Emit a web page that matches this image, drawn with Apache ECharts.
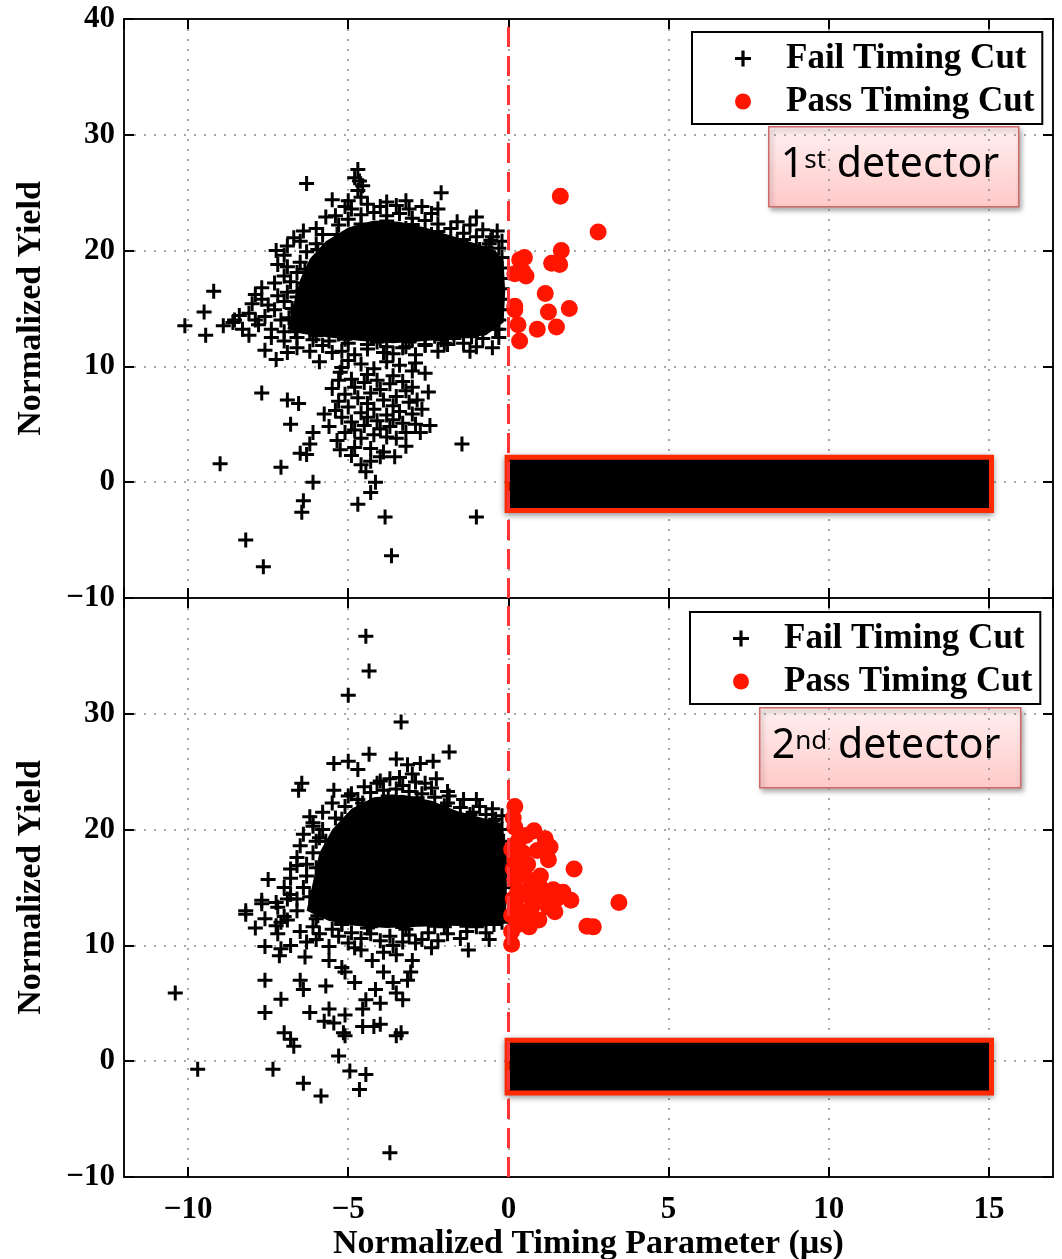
<!DOCTYPE html>
<html>
<head>
<meta charset="utf-8">
<title>Timing cut - two detectors</title>
<style>
  html, body { margin: 0; padding: 0; background: #fff; }
  #chart { width: 1062px; height: 1259px; }
</style>
<script src="https://cdn.jsdelivr.net/npm/echarts@6.0.0/dist/echarts.min.js"></script>
</head>
<body>
<div id="chart"></div>
<script>
// axis ranges (both panels share x)
const xMin = -12, xMax = 17;
const yMin = -10, yMax = 40;
const xName = 'Normalized Timing Parameter (\u00b5s)';
const yName = 'Normalized Yield';
const seriesNames = ['Fail Timing Cut', 'Pass Timing Cut'];
const panelTags = [['1', 'st'], ['2', 'nd']];

// ---- 1st detector ----
// dense overplotted core of the fail cloud (outline)
const topCore = [
  [-6.9, 13.2], [-6.7, 15.5], [-6.5, 17.5], [-6.2, 19.3], [-5.7, 20.8], [-5.0, 22.0],
  [-4.2, 22.6], [-3.4, 22.5], [-2.6, 22.0], [-1.8, 21.3], [-1.0, 20.6], [-0.4, 20.0],
  [-0.15, 19.0], [-0.1, 16.5], [-0.15, 13.8], [-0.7, 12.7], [-1.6, 12.4], [-2.6, 12.2],
  [-3.6, 12.0], [-4.6, 12.2], [-5.6, 12.5], [-6.4, 12.8]
];
const topFail = [
  // outliers
  [-4.7, 27.0], [-6.3, 25.8], [-4.65, 26.0], [-4.7, 25.2], [-2.1, 25.0], [-5.5, 24.4],
  [-5.0, 24.3], [-3.8, 24.2], [-4.6, 24.6], [-2.7, 23.8], [-1.0, 22.9], [-5.7, 22.9],
  [-6.4, 21.7], [-6.7, 21.1], [-7.25, 20.0], [-0.35, 21.7], [-0.55, 20.9], [-9.2, 16.5],
  [-7.7, 16.8], [-9.5, 14.7], [-8.0, 15.4], [-10.1, 13.5], [-9.45, 12.7], [-8.9, 13.5],
  [-8.55, 14.0], [-8.1, 14.6], [-7.6, 11.4], [-7.25, 10.6], [-5.9, 10.4], [-7.7, 7.7],
  [-6.9, 7.1], [-6.55, 6.8], [-6.8, 5.0], [-6.1, 4.3], [-6.2, 3.3], [-6.5, 2.5],
  [-6.3, 2.4], [-9.0, 1.6], [-7.1, 1.3], [-6.1, 0.0], [-6.4, -1.6], [-6.45, -2.6],
  [-8.2, -5.0], [-7.65, -7.3], [-4.7, -1.9], [-4.3, -0.9], [-4.15, 0.0], [-4.45, 0.9],
  [-3.85, -3.0], [-3.65, -6.35], [-1.0, -3.0], [-1.45, 3.3], [-2.6, 9.4], [-2.45, 4.9],
  [-2.75, 4.3], [-3.55, 2.2], [-4.9, 2.3], [-5.25, 2.8], [-5.35, 3.6], [-5.75, 5.9],
  [-5.5, 8.1], [-5.25, 9.5],
  // lower sub-cluster
  [-5.0, 10.5], [-4.6, 10.2], [-4.2, 9.8], [-3.8, 10.4], [-3.4, 10.1], [-3.0, 9.6],
  [-5.3, 8.8], [-4.9, 8.9], [-4.5, 8.6], [-4.1, 8.8], [-3.7, 8.5], [-3.3, 8.7],
  [-3.0, 8.2], [-5.1, 7.6], [-4.7, 7.3], [-4.3, 7.7], [-3.9, 7.1], [-3.5, 7.4],
  [-3.1, 6.9], [-2.85, 7.1], [-5.4, 6.2], [-5.0, 6.5], [-4.6, 6.0], [-4.2, 6.3],
  [-3.8, 5.8], [-3.4, 6.1], [-3.0, 5.9], [-4.9, 5.2], [-4.5, 4.9], [-4.1, 5.3],
  [-3.7, 4.8], [-3.3, 5.1], [-5.1, 4.3], [-4.6, 3.8], [-4.2, 4.1], [-3.8, 3.9],
  [-3.5, 3.8], [-4.8, 3.0], [-4.3, 2.9], [-3.9, 2.6], [-4.6, 1.5], [-4.3, 1.8],
  [-5.2, 9.9], [-4.4, 9.3], [-3.6, 9.2], [-2.9, 10.3], [-4.8, 8.2], [-4.0, 8.0],
  [-3.2, 7.9], [-5.3, 7.0], [-4.4, 6.8], [-3.6, 6.6], [-2.7, 6.3], [-5.2, 5.6],
  [-4.4, 5.6], [-3.6, 5.4], [-2.9, 5.0], [-4.8, 4.5], [-4.0, 4.6], [-3.2, 4.3],
  [-5.6, 4.8], [-2.5, 7.8], [-4.0, 2.2], [-3.2, 3.1],
  // band below the main cloud
  [-4.4, 11.5], [-3.9, 11.2], [-3.3, 11.6], [-2.6, 11.8], [-1.9, 11.9], [-1.0, 11.7],
  [-5.2, 11.3], [-5.8, 11.8], [-6.6, 11.6], [-7.0, 12.2],
  [-0.5, 11.6], [-1.2, 11.3], [-2.2, 11.3], [-2.9, 11.0], [-3.6, 11.1], [-4.8, 11.0],
  [-5.5, 11.2], [-6.2, 11.3], [-6.9, 11.2], [-1.7, 12.4], [-0.3, 12.5], [-2.3, 12.6],
  [-3.0, 12.3], [-4.0, 12.4], [-5.3, 12.8], [-6.2, 13.0],
  // ragged edge of the main cloud
  [-7.4, 13.2], [-7.1, 14.0], [-7.3, 14.9], [-7.0, 15.6], [-6.9, 16.4], [-6.8, 17.3],
  [-6.6, 18.1], [-6.5, 19.0], [-6.3, 19.9], [-6.0, 20.6], [-5.8, 21.4],
  [-5.3, 22.2], [-5.0, 22.7], [-4.6, 23.1], [-4.2, 23.3], [-3.8, 23.0], [-3.4, 23.2],
  [-3.0, 22.8], [-2.6, 22.6], [-2.2, 22.3], [-1.8, 21.9], [-1.4, 21.5], [-1.0, 21.2],
  [-0.6, 20.6], [-0.3, 20.2],
  [-0.2, 19.4], [-0.2, 18.5], [-0.25, 17.6], [-0.2, 16.7], [-0.25, 15.8], [-0.2, 14.9],
  [-0.3, 14.0], [-0.3, 13.2],
  [-0.8, 12.4], [-1.4, 12.0], [-2.0, 12.0], [-2.6, 11.9], [-3.2, 11.7], [-3.8, 11.7],
  [-4.4, 11.9], [-5.0, 12.0], [-5.6, 12.2], [-6.1, 12.3], [-6.6, 12.5],
  [-7.8, 13.6], [-7.6, 14.3], [-7.5, 15.3], [-7.2, 16.1], [-7.4, 12.5], [-8.3, 13.2],
  [-7.0, 17.8], [-6.9, 18.6],
  [-8.6, 13.8], [-8.4, 14.4], [-7.9, 14.0], [-7.7, 15.8], [-7.9, 16.2], [-7.3, 17.2],
  [-7.2, 18.8], [-7.0, 19.6], [-6.9, 20.4], [-6.5, 20.8], [-8.1, 12.7], [-7.0, 13.0],
  [-6.6, 14.7], [-6.6, 16.0], [-6.4, 17.2],
  [-6.0, 21.9], [-5.4, 23.0], [-4.9, 23.6], [-4.4, 24.0], [-4.0, 23.8], [-3.5, 23.9],
  [-3.1, 23.6], [-2.4, 23.2], [-1.6, 22.5], [-1.2, 22.2], [-0.8, 21.8], [-0.5, 21.2],
  [-0.2, 20.8], [-4.8, 26.3], [-4.55, 25.6], [-5.1, 23.8], [-3.2, 24.3], [-2.2, 23.6],
  [-6.5, 13.8], [-6.3, 15.0], [-6.2, 16.3], [-6.0, 17.8], [-5.8, 19.2], [-5.4, 20.5],
  [-4.8, 21.4], [-4.0, 21.9], [-3.2, 21.9], [-2.4, 21.4], [-1.6, 20.8], [-0.9, 20.1],
  [-0.5, 19.3],
  [-6.85, 14.2], [-6.75, 15.0], [-6.6, 16.5], [-6.35, 18.4], [-5.95, 20.1], [-5.35, 21.4],
  [-4.6, 22.3], [-3.8, 22.55], [-3.0, 22.25], [-2.2, 21.65], [-1.4, 20.95], [-0.7, 20.3],
  [-6.65, 13.0], [-6.0, 12.65], [-5.1, 12.35], [-4.1, 12.1], [-3.1, 12.1], [-2.1, 12.3],
  [-1.15, 12.55], [-0.4, 13.2]
];
const topPass = [
  [1.62, 24.7], [2.8, 21.6], [1.65, 20.0], [1.35, 18.9], [1.6, 18.8], [0.35, 19.2],
  [0.5, 19.4], [0.45, 18.2], [0.2, 18.0], [0.55, 17.8], [1.15, 16.3], [1.9, 15.0],
  [1.25, 14.7], [0.2, 15.2], [0.2, 14.9], [0.3, 13.6], [0.9, 13.2], [1.5, 13.4],
  [0.35, 12.2]
];

// ---- 2nd detector ----
const botCore = [
  [-6.3, 13.0], [-6.1, 15.5], [-5.9, 18.0], [-5.5, 20.0], [-4.9, 21.8], [-4.2, 22.8],
  [-3.3, 23.0], [-2.4, 22.5], [-1.6, 21.6], [-0.8, 21.0], [-0.2, 20.5], [-0.05, 18.0],
  [-0.05, 14.0], [-0.1, 12.0], [-0.8, 11.6], [-1.8, 11.7], [-2.8, 11.6], [-3.8, 11.5],
  [-4.8, 11.7], [-5.6, 12.1]
];
const botFail = [
  // outliers
  [-4.45, 36.7], [-4.35, 33.7], [-5.0, 31.6], [-3.35, 29.3], [-1.85, 26.7], [-4.35, 26.5],
  [-5.45, 25.7], [-5.0, 25.9], [-4.7, 25.2], [-3.5, 26.1], [-3.15, 25.6], [-2.75, 25.7],
  [-2.35, 25.9], [-2.25, 24.4], [-3.7, 24.4], [-6.45, 24.0], [-6.55, 23.4], [-5.45, 23.4],
  [-4.9, 23.1], [-1.85, 22.9], [-1.0, 22.6], [-6.2, 21.1], [-6.1, 20.3], [-5.9, 19.3],
  [-6.6, 16.9], [-7.5, 15.7], [-7.7, 13.9], [-8.2, 13.0], [-7.25, 13.7], [-6.8, 14.4],
  [-3.0, 24.8], [-2.6, 24.0], [-4.1, 24.0], [-3.3, 23.8],
  [-8.2, 12.7], [-7.7, 13.6], [-7.25, 11.7], [-7.6, 9.9], [-7.1, 9.7], [-7.15, 9.1],
  [-6.35, 9.0], [-5.6, 8.7], [-5.2, 8.1], [-5.1, 7.7], [-7.6, 7.0], [-6.5, 7.0],
  [-6.4, 6.2], [-5.7, 6.5], [-10.4, 5.9], [-7.1, 5.35], [-7.6, 4.2], [-6.2, 4.2],
  [-5.6, 4.5], [-5.75, 3.45], [-5.45, 3.3], [-5.1, 4.0], [-4.55, 4.5], [-4.45, 5.3],
  [-4.15, 6.2], [-3.6, 6.8], [-3.5, 5.9], [-3.3, 5.3], [-3.15, 7.0], [-3.05, 7.7],
  [-3.0, 8.7], [-4.25, 8.7], [-3.9, 7.7], [-4.55, 3.0], [-4.2, 3.0], [-4.0, 3.2],
  [-3.35, 2.45], [-3.5, 2.2], [-5.15, 2.45], [-5.1, 2.2], [-7.0, 2.45], [-6.8, 1.9],
  [-6.7, 1.3], [-5.3, 0.45], [-7.35, -0.7], [-9.7, -0.7], [-4.95, -0.85], [-4.45, -1.15],
  [-4.65, -2.45], [-6.4, -1.9], [-5.85, -3.0], [-3.7, -7.9], [-1.25, 9.6], [-3.9, 9.4],
  [-3.5, 9.2], [-4.6, 9.6], [-5.0, 10.2], [-3.3, 10.3], [-2.7, 10.5], [-6.0, 10.5],
  [-6.8, 10.0], [-7.2, 11.0], [-4.8, 6.8], [-4.0, 5.0],
  // ragged edge of the main cloud
  [-6.9, 12.2], [-6.6, 13.0], [-6.6, 14.0], [-6.4, 15.0], [-6.3, 16.0], [-6.3, 17.0],
  [-6.1, 18.0], [-6.0, 19.0], [-5.8, 20.0], [-5.4, 21.0], [-5.1, 22.0],
  [-4.7, 22.6], [-4.3, 23.2], [-3.9, 23.4], [-3.5, 23.5], [-3.1, 23.3], [-2.7, 23.1],
  [-2.3, 22.8], [-1.9, 22.3], [-1.5, 21.9], [-1.1, 21.5], [-0.7, 21.3], [-0.4, 20.9],
  [-0.2, 20.0], [-0.15, 19.0], [-0.2, 18.0], [-0.15, 17.0], [-0.2, 16.0], [-0.15, 15.0],
  [-0.2, 14.0], [-0.15, 13.0], [-0.2, 12.0],
  [-0.7, 11.1], [-1.3, 11.2], [-1.9, 11.0], [-2.5, 11.1], [-3.1, 10.9], [-3.7, 10.8],
  [-4.3, 11.0], [-4.9, 11.1], [-5.5, 11.4], [-6.1, 11.6],
  [-7.0, 12.5], [-7.2, 13.3], [-6.9, 14.0], [-7.0, 15.0], [-6.8, 15.8], [-6.8, 16.6],
  [-6.6, 17.6], [-6.5, 18.6], [-6.4, 19.6], [-6.1, 20.6], [-5.8, 21.5], [-5.5, 22.3],
  [-5.0, 22.9], [-4.5, 23.7], [-4.0, 24.2], [-3.4, 24.5], [-2.9, 24.1], [-2.4, 23.6],
  [-1.9, 23.3], [-1.4, 22.6], [-0.9, 22.0], [-0.5, 21.8], [-0.2, 21.2],
  [-5.9, 13.2], [-5.8, 14.5], [-5.7, 16.0], [-5.6, 17.5], [-5.3, 19.2], [-4.8, 20.8],
  [-4.2, 21.8], [-3.4, 22.2], [-2.6, 21.8], [-1.8, 21.0], [-1.0, 20.4], [-0.4, 19.8],
  [-0.6, 10.5], [-1.5, 10.6], [-2.2, 10.4], [-2.9, 10.2], [-4.0, 10.4], [-4.6, 10.6],
  [-5.3, 10.8], [-5.9, 11.0], [-6.5, 11.2], [-1.0, 11.6], [-2.0, 11.6], [-3.2, 11.4],
  [-4.4, 11.5], [-5.2, 11.8], [-6.0, 12.3], [-3.6, 10.0], [-2.4, 9.8], [-4.8, 9.8],
  [-5.6, 9.9], [-6.3, 10.3], [-7.6, 12.3], [-7.9, 11.5], [-7.1, 12.0],
  [-6.2, 14.2], [-6.0, 16.7], [-5.7, 19.0], [-5.2, 20.9], [-4.55, 22.3], [-3.75, 22.9],
  [-2.85, 22.75], [-2.0, 22.05], [-1.2, 21.3], [-0.5, 20.75], [-5.95, 12.55], [-5.2, 11.9],
  [-4.3, 11.6], [-3.3, 11.55], [-2.3, 11.65], [-1.3, 11.65], [-0.45, 11.8]
];
const botPass = [
  [0.2, 22.0], [0.15, 21.0], [0.2, 20.2], [0.55, 19.5], [0.8, 19.9], [1.15, 19.2],
  [1.3, 18.5], [0.3, 19.0], [0.1, 18.3], [0.45, 18.0], [0.9, 18.2], [1.25, 17.4],
  [0.2, 17.5], [0.6, 17.0], [0.15, 16.6], [2.05, 16.6], [0.5, 16.2], [1.0, 16.0],
  [0.2, 15.7], [0.7, 15.3], [1.0, 15.0], [1.4, 14.8], [1.7, 14.6], [0.3, 14.7],
  [0.15, 14.0], [0.6, 14.3], [1.1, 14.2], [1.5, 14.0], [1.95, 13.9], [3.45, 13.7],
  [0.25, 13.3], [0.75, 13.4], [1.25, 13.3], [0.1, 12.6], [0.5, 12.5], [0.95, 12.2],
  [1.45, 12.9], [0.3, 11.8], [0.65, 11.6], [2.45, 11.65], [2.65, 11.6], [0.1, 10.1],
  [0.1, 11.2]
];

// black redaction bars (corners in axis units)
const maskTop = [[-0.04, 2.15], [15.08, -2.45]];
const maskBot = [[-0.04, 1.81], [15.08, -2.74]];

const serif = 'Liberation Serif';
const crossPath = 'path://M6,0H9V6H15V9H9V15H6V9H0V6H6Z';
const minus = v => String(v).replace('-', '\u2212');

const gridLine = { show: true, lineStyle: { color: '#8a8a8a', width: 1.5, type: [2, 8] } };
const tickIn = { show: true, inside: true, length: 10, lineStyle: { color: '#000', width: 2 } };
const frameLine = { show: true, onZero: false, lineStyle: { color: '#111', width: 2 } };
const tickFont = { fontFamily: serif, fontWeight: 'bold', fontSize: 31, color: '#000' };
const nameFont = { fontFamily: serif, fontWeight: 'bold', fontSize: 34, color: '#000' };

function xAxes(gi, withLabels) {
  return [
    {
      type: 'value', gridIndex: gi, position: 'bottom', min: xMin, max: xMax, splitNumber: 6,
      axisLine: frameLine, axisTick: tickIn, splitLine: gridLine,
      axisLabel: Object.assign({ show: withLabels, showMinLabel: false, showMaxLabel: false,
        margin: 17, formatter: minus }, tickFont),
      name: withLabels ? xName : '', nameLocation: 'middle', nameGap: 50,
      nameMoveOverlap: false, nameTextStyle: nameFont
    },
    {
      type: 'value', gridIndex: gi, position: 'top', min: xMin, max: xMax, splitNumber: 6,
      axisLine: frameLine, axisTick: tickIn, splitLine: { show: false },
      axisLabel: { show: false }
    }
  ];
}

function yAxes(gi, hideTop) {
  return [
    {
      type: 'value', gridIndex: gi, position: 'left', min: yMin, max: yMax, interval: 10,
      axisLine: frameLine, axisTick: tickIn, splitLine: gridLine,
      axisLabel: Object.assign({ margin: 9,
        formatter: v => (hideTop && v === yMax) ? '' : minus(v) }, tickFont),
      name: yName, nameLocation: 'middle', nameGap: 76, nameMoveOverlap: false,
      nameTextStyle: nameFont
    },
    {
      type: 'value', gridIndex: gi, position: 'right', min: yMin, max: yMax, interval: 10,
      axisLine: frameLine, axisTick: tickIn, splitLine: { show: false },
      axisLabel: { show: false }
    }
  ];
}

function coreSeries(points, ai) {
  return {
    type: 'custom', xAxisIndex: ai, yAxisIndex: ai, silent: true, z: 1, data: points,
    renderItem(params, api) {
      if (params.dataIndex !== 0) return null;
      return {
        type: 'polygon',
        shape: { points: points.map(p => api.coord(p)) },
        style: { fill: '#000' }
      };
    }
  };
}

function panelSeries(core, fail, pass, mask, ai) {
  return [
    coreSeries(core, ai),
    {
      name: seriesNames[0], type: 'scatter', xAxisIndex: ai, yAxisIndex: ai, z: 2,
      symbol: crossPath, symbolSize: 15, itemStyle: { color: '#000', opacity: 1 },
      data: fail
    },
    {
      name: seriesNames[1], type: 'scatter', xAxisIndex: ai, yAxisIndex: ai, z: 3,
      symbol: 'circle', symbolSize: 17, itemStyle: { color: '#ff1500', opacity: 1 },
      data: pass,
      markLine: {
        silent: true, symbol: 'none', label: { show: false },
        lineStyle: { color: '#ff3434', width: 3, type: [20, 9] },
        data: [{ xAxis: 0 }]
      },
      markArea: {
        silent: true, label: { show: false },
        itemStyle: {
          color: '#000', borderColor: '#ff2a00', borderWidth: 5,
          shadowBlur: 6, shadowColor: 'rgba(0,0,0,0.35)', shadowOffsetY: 2
        },
        data: [[{ coord: mask[0] }, { coord: mask[1] }]]
      }
    }
  ];
}

function legendBox(left, top) {
  return {
    left: left, top: top, orient: 'vertical', selectedMode: false,
    backgroundColor: '#fff', borderColor: '#000', borderWidth: 2, borderRadius: 0,
    padding: [9, 8, 5, 43], itemGap: 8, itemWidth: 76, itemHeight: 16,
    textStyle: Object.assign({ lineHeight: 34 }, nameFont, { fontSize: 35 }),
    data: [{ name: seriesNames[0], icon: crossPath }, { name: seriesNames[1], icon: 'circle' }]
  };
}

function tagBox(left, top, width, tag) {
  return {
    type: 'group', left: left, top: top, z: 100,
    children: [
      {
        type: 'rect', shape: { x: 0, y: 0, width: width, height: 80 },
        style: {
          fill: new echarts.graphic.LinearGradient(0, 0, 0, 1, [
            { offset: 0, color: '#fff0f0' }, { offset: 1, color: '#ffc9c9' }
          ]),
          stroke: '#cf6a6a', lineWidth: 1.5,
          shadowBlur: 5, shadowColor: 'rgba(0,0,0,0.35)', shadowOffsetX: 2, shadowOffsetY: 3
        }
      },
      {
        type: 'text', x: 12, y: 18,
        style: {
          text: '{n|' + tag[0] + '}{s|' + tag[1] + '}{n| detector}',
          rich: {
            n: { fontFamily: 'Noto Sans', fontSize: 41, lineHeight: 41, color: '#129a12', verticalAlign: 'bottom' },
            s: { fontFamily: 'Noto Sans', fontSize: 26, lineHeight: 26, color: '#129a12', verticalAlign: 'bottom', padding: [0, 0, 12, 0] }
          }
        }
      }
    ]
  };
}

const chart = echarts.init(document.getElementById('chart'), null, { renderer: 'canvas' });
chart.setOption({
  animation: false,
  backgroundColor: '#fff',
  grid: [
    { left: 124, top: 19, width: 929, height: 579, show: false,
      containLabel: false, outerBoundsMode: 'none' },
    { left: 124, top: 598, width: 929, height: 579, show: false,
      containLabel: false, outerBoundsMode: 'none' }
  ],
  xAxis: xAxes(0, false).concat(xAxes(1, true)),
  yAxis: yAxes(0, false).concat(yAxes(1, true)),
  legend: [legendBox(692, 32), legendBox(690, 612)],
  series: panelSeries(topCore, topFail, topPass, maskTop, 0)
    .concat(panelSeries(botCore, botFail, botPass, maskBot, 2)),
  graphic: [
    tagBox(768, 126, 250, panelTags[0]),
    tagBox(759, 707, 261, panelTags[1])
  ]
});
</script>
</body>
</html>
